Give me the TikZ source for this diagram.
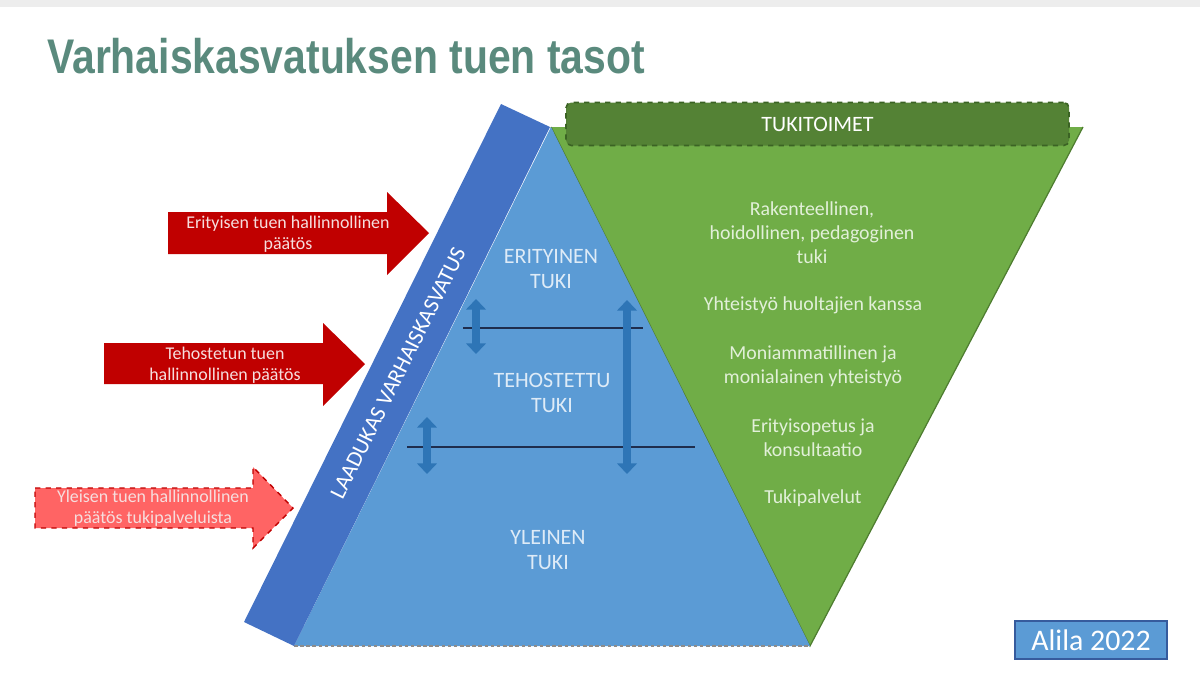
\documentclass[tikz,border=0pt]{standalone}
\usepackage{fontspec}
\setmainfont{Carlito}
\newfontfamily\titlefont{Liberation Sans}
\usetikzlibrary{arrows.meta,positioning}

\definecolor{titlegreen}{HTML}{5A8A7D}
\definecolor{lvlblue}{HTML}{5B9BD5}
\definecolor{bandblue}{HTML}{4472C4}
\definecolor{arrowblue}{HTML}{2E75B6}
\definecolor{linenavy}{HTML}{1F2D4D}
\definecolor{tukigreen}{HTML}{70AD47}
\definecolor{edgegreen}{HTML}{4E7D30}
\definecolor{boxgreen}{HTML}{548235}
\definecolor{boxedge}{HTML}{3B6324}
\definecolor{paatosred}{HTML}{C00000}
\definecolor{paatoslight}{HTML}{FF6464}
\definecolor{lighttext}{HTML}{DEEBF7}
\definecolor{greentext}{HTML}{E2F0D9}
\definecolor{redtext}{HTML}{F6DEDE}

\begin{document}
\begin{tikzpicture}[>=Latex, x=0.02cm, y=-0.02cm,
  lvltext/.style={align=center, text=lighttext, font=\fontsize{12.5}{14.7}\selectfont},
  toimitext/.style={align=center, text=greentext, font=\fontsize{11.3}{13.6}\selectfont},
  paatostext/.style={align=center, text=redtext, font=\fontsize{10.2}{12}\selectfont},
  dblarrow/.style={arrowblue, line width=4pt,
    {Triangle[length=6pt,width=11pt]}-{Triangle[length=6pt,width=11pt]}},
  tasoline/.style={linenavy, line width=1.1pt}]
\useasboundingbox (0,0) rectangle (1200,673);
\fill[black!7] (0,0) rectangle (1200,7);

% otsikko
\node[anchor=base west, inner sep=0, xscale=0.84, text=titlegreen,
  font=\titlefont\bfseries\fontsize{27.7}{30}\selectfont] (title) at (47,73)
  {Varhaiskasvatuksen tuen tasot};

% tukitoimet (vihrea kolmio)
\fill[tukigreen] (551,127) -- (1083,127) -- (810,646) -- cycle;
\draw[edgegreen, line width=0.7pt] (1083,127) -- (810,646) -- (551,127);
\node[draw=boxedge, dashed, line width=0.9pt, fill=boxgreen, rounded corners=3pt,
  minimum width=503*0.02cm, minimum height=43*0.02cm, text=white,
  font=\fontsize{12.5}{14}\selectfont] (toimet) at (817.5,124) {TUKITOIMET};

% tuen tasot (sininen kolmio)
\fill[lvlblue] (551,127) -- (810,646) -- (294,646) -- cycle;
\draw[black!45, line width=0.6pt, dash pattern=on 2pt off 1.5pt] (294,646) -- (810,646);
\fill[bandblue] (501,104) -- (550,127) -- (294,646) -- (244,622) -- cycle;
\node[rotate=63.5, text=white, font=\fontsize{12.8}{14}\selectfont] (laatu) at (398,373)
  {LAADUKAS VARHAISKASVATUS};

\draw[tasoline] (463,328) -- (643,328);
\draw[tasoline] (407,447) -- (695,447);

\coordinate (a1t) at (476,299);
\coordinate (a1b) at (476,354);
\coordinate (a2t) at (427,417);
\coordinate (a2b) at (427,474);
\coordinate (a3t) at (627,300);
\coordinate (a3b) at (627,474);
\draw[dblarrow] (a1t) -- (a1b);
\draw[dblarrow] (a2t) -- (a2b);
\draw[dblarrow] (a3t) -- (a3b);

\node[lvltext] (erityinen) at (551,269) {ERITYINEN\\TUKI};
\node[lvltext] (tehostettu) at (552,393) {TEHOSTETTU\\TUKI};
\node[lvltext] (yleinen) at (548,550) {YLEINEN\\TUKI};

% tukitoimet tekstit
\node[toimitext] (rakenne) at (812,233) {Rakenteellinen,\\hoidollinen, pedagoginen\\tuki};
\node[toimitext] (huoltajat) at (813,305) {Yhteistyö huoltajien kanssa};
\node[toimitext] (moniamm) at (813,366) {Moniammatillinen ja\\monialainen yhteistyö};
\node[toimitext] (erityisop) at (813,438) {Erityisopetus ja\\konsultaatio};
\node[toimitext] (tukipalv) at (813,498) {Tukipalvelut};

% hallinnolliset paatokset
\fill[paatosred] (168,212) -- (387,212) -- (387,192) -- (429,233) -- (387,275)
  -- (387,254) -- (168,254) -- cycle;
\node[paatostext] (erpaatos) at (288,234) {Erityisen tuen hallinnollinen\\päätös};

\fill[paatosred] (104,343) -- (323,343) -- (323,323) -- (365,364) -- (323,406)
  -- (323,384) -- (104,384) -- cycle;
\node[paatostext] (tehpaatos) at (225,365) {Tehostetun tuen\\hallinnollinen päätös};

\draw[paatosred, fill=paatoslight, dashed, line width=0.8pt] (35,488) -- (253,488)
  -- (253,467) -- (293,508) -- (253,548) -- (253,528) -- (35,528) -- cycle;
\node[paatostext] (ylpaatos) at (153,508) {Yleisen tuen hallinnollinen\\päätös tukipalveluista};

% lahde
\node[draw=bandblue!80!black, line width=0.6pt, fill=lvlblue, text=white,
  minimum width=152*0.02cm, minimum height=38*0.02cm,
  font=\fontsize{17}{19}\selectfont] (alila) at (1091,640) {Alila 2022};
\end{tikzpicture}
\end{document}
